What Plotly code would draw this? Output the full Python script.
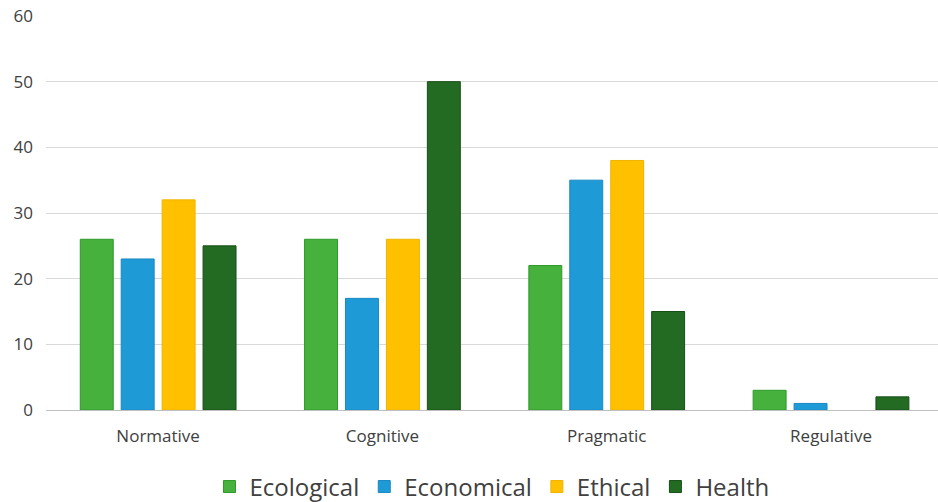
import plotly.graph_objects as go

categories = ["Normative", "Cognitive", "Pragmatic", "Regulative"]
ecological = [26, 26, 22, 3]
economical = [23, 17, 35, 1]
ethical = [32, 26, 38, 0]
health = [25, 50, 15, 2]
series_names = ["Ecological", "Economical", "Ethical", "Health"]
fill_colors = ["#46B13C", "#1E9BD7", "#FFC000", "#236B23"]
line_colors = ["#2E9A2A", "#1A88C4", "#F0B400", "#174F17"]

fig = go.Figure()
for name, vals, fc, lc in zip(series_names, [ecological, economical, ethical, health], fill_colors, line_colors):
    fig.add_trace(go.Bar(x=categories, y=vals, name=name,
                         marker=dict(color=fc, line=dict(color=lc, width=[1 if v else 0 for v in vals]))))

fig.update_layout(
    width=938, height=502,
    margin=dict(l=46, r=0, t=16, b=92),
    plot_bgcolor="white", paper_bgcolor="white",
    barmode="group", bargap=0.27, bargroupgap=0.195,
    font=dict(family="Open Sans, Noto Sans, sans-serif", color="#404040", size=16),
    yaxis=dict(range=[0, 60], dtick=10, showgrid=True, gridcolor="#D9D9D9", gridwidth=1,
               zeroline=True, zerolinecolor="#BFBFBF", zerolinewidth=1,
               tickfont=dict(size=17, color="#404040"), ticks="", ticklabelstandoff=12),
    xaxis=dict(showline=False, range=[-0.5, 3.477], tickfont=dict(size=17, color="#404040"),
               ticks="", ticklabelstandoff=14),
    legend=dict(orientation="h", x=0.5, xanchor="center", yref="container", y=0.03, yanchor="middle",
                font=dict(size=24, color="#404040"), itemwidth=30, traceorder="normal"),
)

fig.write_html("out.html")
